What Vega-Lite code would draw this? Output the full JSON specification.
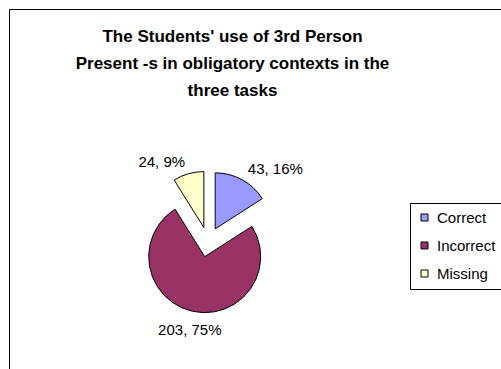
{
  "$schema": "https://vega.github.io/schema/vega-lite/v6.json",
  "width": 495,
  "height": 365,
  "autosize": "none",
  "padding": {"left": 9, "top": 9, "right": 0, "bottom": 0},
  "background": "white",
  "view": {"stroke": "black", "strokeWidth": 1, "fill": "white"},
  "config": {"font": "Liberation Sans"},
  "title": {
    "text": ["The Students' use of 3rd Person", "Present -s in obligatory contexts in the", "three tasks"],
    "font": "Liberation Sans",
    "fontSize": 17,
    "fontWeight": "bold",
    "color": "black",
    "anchor": "middle",
    "frame": "group",
    "baseline": "top",
    "offset": -91,
    "dx": -24,
    "lineHeight": 27
  },
  "data": {
    "values": [
      {"category": "Correct", "count": 43},
      {"category": "Incorrect", "count": 203},
      {"category": "Missing", "count": 24}
    ]
  },
  "transform": [
    {"joinaggregate": [{"op": "sum", "field": "count", "as": "total"}]},
    {"window": [{"op": "sum", "field": "count", "as": "cum"}], "sort": [{"field": "category"}], "frame": [null, 0]},
    {"calculate": "2*PI*(datum.cum - datum.count)/datum.total", "as": "a0"},
    {"calculate": "2*PI*datum.cum/datum.total", "as": "a1"},
    {"calculate": "(datum.a0 + datum.a1)/2", "as": "mid"},
    {"calculate": "sin(datum.mid)", "as": "ex"},
    {"calculate": "cos(datum.mid)", "as": "ey"},
    {"calculate": "datum.count + ', ' + format(datum.count/datum.total, '.0%')", "as": "label"}
  ],
  "encoding": {
    "x": {"field": "ex", "type": "quantitative", "stack": null, "scale": {"domain": [-1, 1], "range": [184, 214]}, "axis": null},
    "y": {"field": "ey", "type": "quantitative", "stack": null, "scale": {"domain": [-1, 1], "range": [248, 218]}, "axis": null}
  },
  "layer": [
    {
      "mark": {"type": "arc", "outerRadius": 56, "stroke": "black", "strokeWidth": 1},
      "encoding": {
        "theta": {"field": "a0", "type": "quantitative", "scale": null, "stack": null},
        "theta2": {"field": "a1"},
        "color": {
          "field": "category",
          "type": "nominal",
          "scale": {"domain": ["Correct", "Incorrect", "Missing"], "range": ["#9999FF", "#993366", "#FFFFCC"]},
          "legend": {
            "title": null,
            "orient": "none",
            "legendX": 401,
            "legendY": 194,
            "symbolType": "square",
            "symbolSize": 49,
            "symbolStrokeColor": "black",
            "symbolStrokeWidth": 1,
            "symbolOpacity": 1,
            "labelFontSize": 15,
            "labelFont": "Liberation Sans",
            "labelColor": "black",
            "labelOffset": 5,
            "strokeColor": "black",
            "fillColor": "white",
            "padding": 7,
            "rowPadding": 12
          }
        }
      }
    },
    {
      "mark": {
        "type": "text",
        "radius": 68,
        "fontSize": 15,
        "font": "Liberation Sans",
        "color": "black",
        "baseline": {"expr": "datum.ey < -0.7 ? 'top' : 'middle'"},
        "align": {"expr": "datum.ey < -0.7 ? 'center' : (datum.ex > 0 ? 'left' : 'right')"}
      },
      "encoding": {
        "theta": {"field": "mid", "type": "quantitative", "scale": null, "stack": null},
        "text": {"field": "label", "type": "nominal"}
      }
    }
  ]
}
